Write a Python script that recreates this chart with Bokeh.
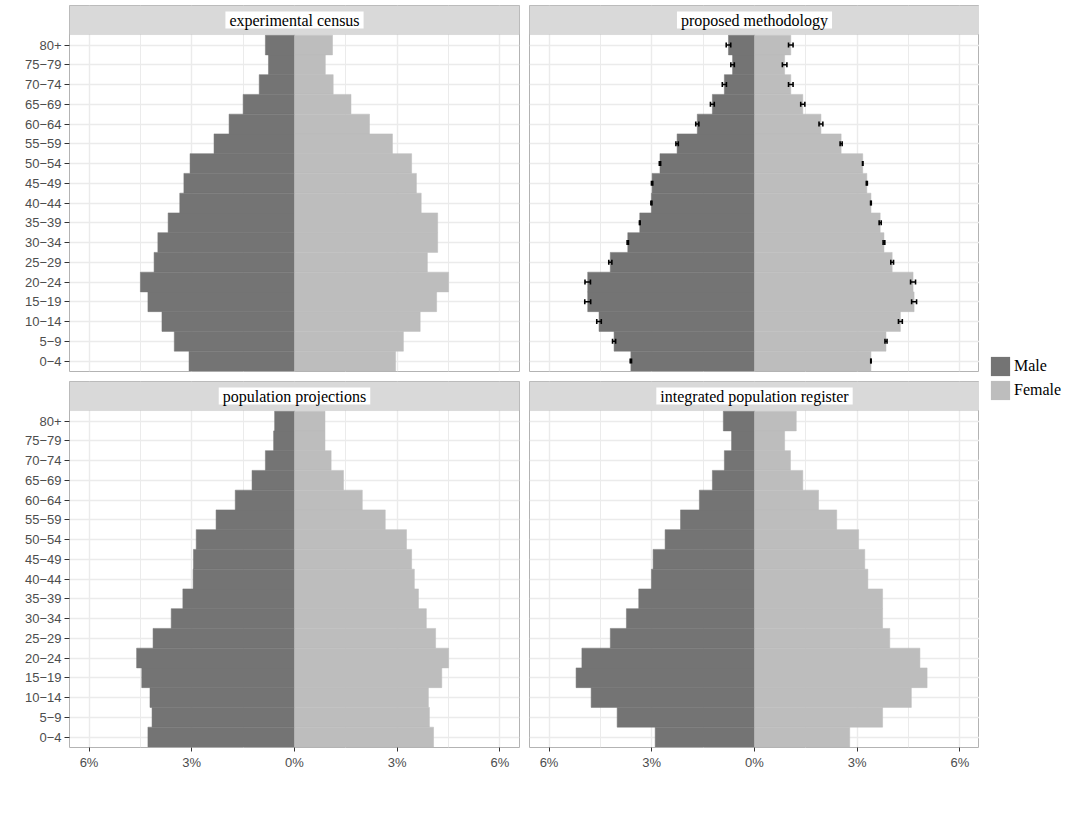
import math
from bokeh.plotting import figure
from bokeh.models import (Range1d, FixedTicker, BoxAnnotation, Label,
                          ColumnDataSource, Legend, LegendItem)
from bokeh.layouts import row, column
from bokeh.embed import file_html
from bokeh.resources import INLINE

# ---------------- data (listed from top row 80+ down to 0-4) ----------------
age_groups = ["80+", "75\u221279", "70\u221274", "65\u221269", "60\u221264", "55\u221259",
              "50\u221254", "45\u221249", "40\u221244", "35\u221239", "30\u221234", "25\u221229",
              "20\u221224", "15\u221219", "10\u221214", "5\u22129", "0\u22124"]

census_male = [0.85, 0.76, 1.03, 1.50, 1.91, 2.35, 3.05, 3.23, 3.35, 3.69, 3.99, 4.10, 4.50, 4.28, 3.87, 3.51, 3.08]
census_female = [1.11, 0.90, 1.13, 1.65, 2.19, 2.86, 3.42, 3.56, 3.70, 4.18, 4.18, 3.88, 4.50, 4.15, 3.67, 3.18, 2.95]

proposed_male = [0.76, 0.64, 0.88, 1.23, 1.67, 2.26, 2.76, 2.99, 3.01, 3.35, 3.70, 4.21, 4.87, 4.87, 4.54, 4.10, 3.61]
proposed_female = [1.06, 0.88, 1.06, 1.41, 1.94, 2.53, 3.16, 3.28, 3.40, 3.67, 3.78, 4.02, 4.63, 4.66, 4.26, 3.84, 3.40]
proposed_male_err = [0.066, 0.051, 0.060, 0.056, 0.045, 0.035, 0.019, 0.019, 0.015, 0.010, 0.019, 0.045, 0.080, 0.086, 0.066, 0.045, 0.019]
proposed_female_err = [0.066, 0.066, 0.066, 0.060, 0.056, 0.030, 0.006, 0.015, 0.010, 0.030, 0.025, 0.040, 0.072, 0.072, 0.056, 0.030, 0.006]

projection_male = [0.58, 0.61, 0.85, 1.24, 1.73, 2.29, 2.87, 2.95, 2.96, 3.26, 3.60, 4.13, 4.61, 4.46, 4.22, 4.16, 4.28]
projection_female = [0.89, 0.89, 1.07, 1.43, 1.98, 2.65, 3.27, 3.42, 3.50, 3.62, 3.85, 4.12, 4.50, 4.30, 3.91, 3.94, 4.06]

register_male = [0.91, 0.67, 0.88, 1.23, 1.61, 2.16, 2.61, 2.96, 3.01, 3.38, 3.74, 4.21, 5.04, 5.21, 4.77, 4.01, 2.90]
register_female = [1.22, 0.88, 1.05, 1.41, 1.87, 2.40, 3.04, 3.22, 3.31, 3.74, 3.74, 3.95, 4.83, 5.04, 4.58, 3.74, 2.78]

panel_titles = ["experimental census", "proposed methodology",
                "population projections", "integrated population register"]
sex_labels = ["Male", "Female"]

x_ticks = [-6, -3, 0, 3, 6]
x_tick_labels = ["6%", "3%", "0%", "3%", "6%"]
x_minor = [-4.5, -1.5, 1.5, 4.5]

# ---------------- styling ----------------
MALE_COLOR = "#747474"
FEMALE_COLOR = "#BDBDBD"
BORDER = "#B3B3B3"
GRID = "#EBEBEB"
STRIP = "#D9D9D9"
SANS = "Liberation Sans"
SERIF = "Liberation Serif"

N = len(age_groups)
ys = [N - 1 - i for i in range(N)]
XLIM = 6.57
FRAME_W = 450
FRAME_H = 366
Y_LO = -0.53
PANEL_TOP = N - 1 + 0.53
Y_HI = 18.0
TOP_PAD = 5
LEFT_PAD = 69


def make_panel(title, male, female, left, bottom, male_err=None, female_err=None):
    p = figure(frame_width=FRAME_W, frame_height=FRAME_H,
               x_range=Range1d(-XLIM, XLIM), y_range=Range1d(Y_LO, Y_HI),
               output_backend="svg", toolbar_location=None,
               x_axis_location="below" if bottom else None,
               y_axis_location="left" if left else None,
               min_border_left=LEFT_PAD if left else 0,
               min_border_right=10 if left else 0,
               min_border_top=0 if bottom else TOP_PAD,
               min_border_bottom=30 if bottom else 10,
               outline_line_color=BORDER, outline_line_width=1,
               background_fill_color="white", border_fill_color="white")

    for g in p.xgrid:
        g.ticker = FixedTicker(ticks=x_ticks, minor_ticks=x_minor)
        g.grid_line_color = GRID
        g.grid_line_width = 1.4
        g.minor_grid_line_color = GRID
        g.minor_grid_line_width = 1.0
    for g in p.ygrid:
        g.ticker = FixedTicker(ticks=ys)
        g.grid_line_color = GRID
        g.grid_line_width = 1.4

    if bottom:
        ax = p.xaxis[0]
        ax.ticker = FixedTicker(ticks=x_ticks)
        ax.major_label_overrides = {t: l for t, l in zip(x_ticks, x_tick_labels)}
        ax.axis_line_color = None
        ax.major_tick_line_color = "#333333"
        ax.major_tick_out = 4
        ax.major_tick_in = 0
        ax.minor_tick_line_color = None
        ax.major_label_standoff = 3
        ax.major_label_text_font = SANS
        ax.major_label_text_font_size = "13px"
        ax.major_label_text_color = "#4D4D4D"
    if left:
        ay = p.yaxis[0]
        ay.ticker = FixedTicker(ticks=ys)
        ay.major_label_overrides = {y: a for y, a in zip(ys, age_groups)}
        ay.axis_line_color = None
        ay.major_tick_line_color = "#333333"
        ay.major_tick_out = 5
        ay.major_tick_in = 0
        ay.minor_tick_line_color = None
        ay.major_label_standoff = 3
        ay.major_label_text_font = SANS
        ay.major_label_text_font_size = "13px"
        ay.major_label_text_color = "#4D4D4D"

    src = ColumnDataSource(dict(
        y=ys,
        mneg=[-m for m in male],
        female=female,
    ))
    p.hbar(y="y", left="mneg", right=0, height=1, source=src,
           fill_color=MALE_COLOR, line_color=MALE_COLOR, line_width=0.5)
    p.hbar(y="y", left=0, right="female", height=1, source=src,
           fill_color=FEMALE_COLOR, line_color=FEMALE_COLOR, line_width=0.5)

    if male_err is not None:
        esrc = ColumnDataSource(dict(
            y=ys,
            m_lo=[-(m + e) for m, e in zip(male, male_err)],
            m_hi=[-(m - e) for m, e in zip(male, male_err)],
            f_lo=[f - e for f, e in zip(female, female_err)],
            f_hi=[f + e for f, e in zip(female, female_err)],
        ))
        for lo, hi in (("m_lo", "m_hi"), ("f_lo", "f_hi")):
            p.segment(x0=lo, x1=hi, y0="y", y1="y", source=esrc,
                      line_color="black", line_width=1.6)
            for col in (lo, hi):
                p.scatter(x=col, y="y", source=esrc, marker="dash", angle=math.pi / 2,
                          size=5, line_color="black", line_width=1.6)

    strip = BoxAnnotation(bottom=PANEL_TOP, fill_color=STRIP, fill_alpha=1.0,
                          line_color=BORDER, line_width=1)
    p.add_layout(strip)
    lab = Label(x=0, y=(PANEL_TOP + Y_HI) / 2, text=title,
                text_align="center", text_baseline="middle",
                text_font=SERIF, text_font_size="16px", text_color="black",
                background_fill_color="white",
                padding=dict(left=4, right=4, top=0, bottom=0))
    p.add_layout(lab)
    return p


p1 = make_panel(panel_titles[0], census_male, census_female, left=True, bottom=False)
p2 = make_panel(panel_titles[1], proposed_male, proposed_female, left=False, bottom=False,
                male_err=proposed_male_err, female_err=proposed_female_err)
p3 = make_panel(panel_titles[2], projection_male, projection_female, left=True, bottom=True)
p4 = make_panel(panel_titles[3], register_male, register_female, left=False, bottom=True)

TOTAL_H = (TOP_PAD + FRAME_H + 10) + (FRAME_H + 30)
leg = figure(width=86, height=TOTAL_H, toolbar_location=None, output_backend="svg",
             x_axis_location=None, y_axis_location=None, min_border=0,
             outline_line_color=None, x_range=Range1d(0, 1), y_range=Range1d(0, 1),
             background_fill_color="white", border_fill_color="white")
for g in leg.grid:
    g.visible = False
# zero-width placeholder renderers: only used to draw the legend keys
key_src = ColumnDataSource(dict(y=[0], right=[0]))
rm = leg.hbar(y="y", right="right", height=1, source=key_src,
              fill_color=MALE_COLOR, line_color=None)
rf = leg.hbar(y="y", right="right", height=1, source=key_src,
              fill_color=FEMALE_COLOR, line_color=None)
legend = Legend(items=[LegendItem(label=sex_labels[0], renderers=[rm]),
                       LegendItem(label=sex_labels[1], renderers=[rf])],
                location=(9, 375), glyph_width=24, glyph_height=24, spacing=-2,
                padding=0, margin=0, border_line_color=None, background_fill_alpha=0,
                label_text_font=SERIF, label_text_font_size="16px",
                label_text_color="black", label_standoff=2)
leg.add_layout(legend)

layout = row(column(p1, p3), column(p2, p4), leg)

open("out.html", "w").write(file_html(layout, INLINE))
